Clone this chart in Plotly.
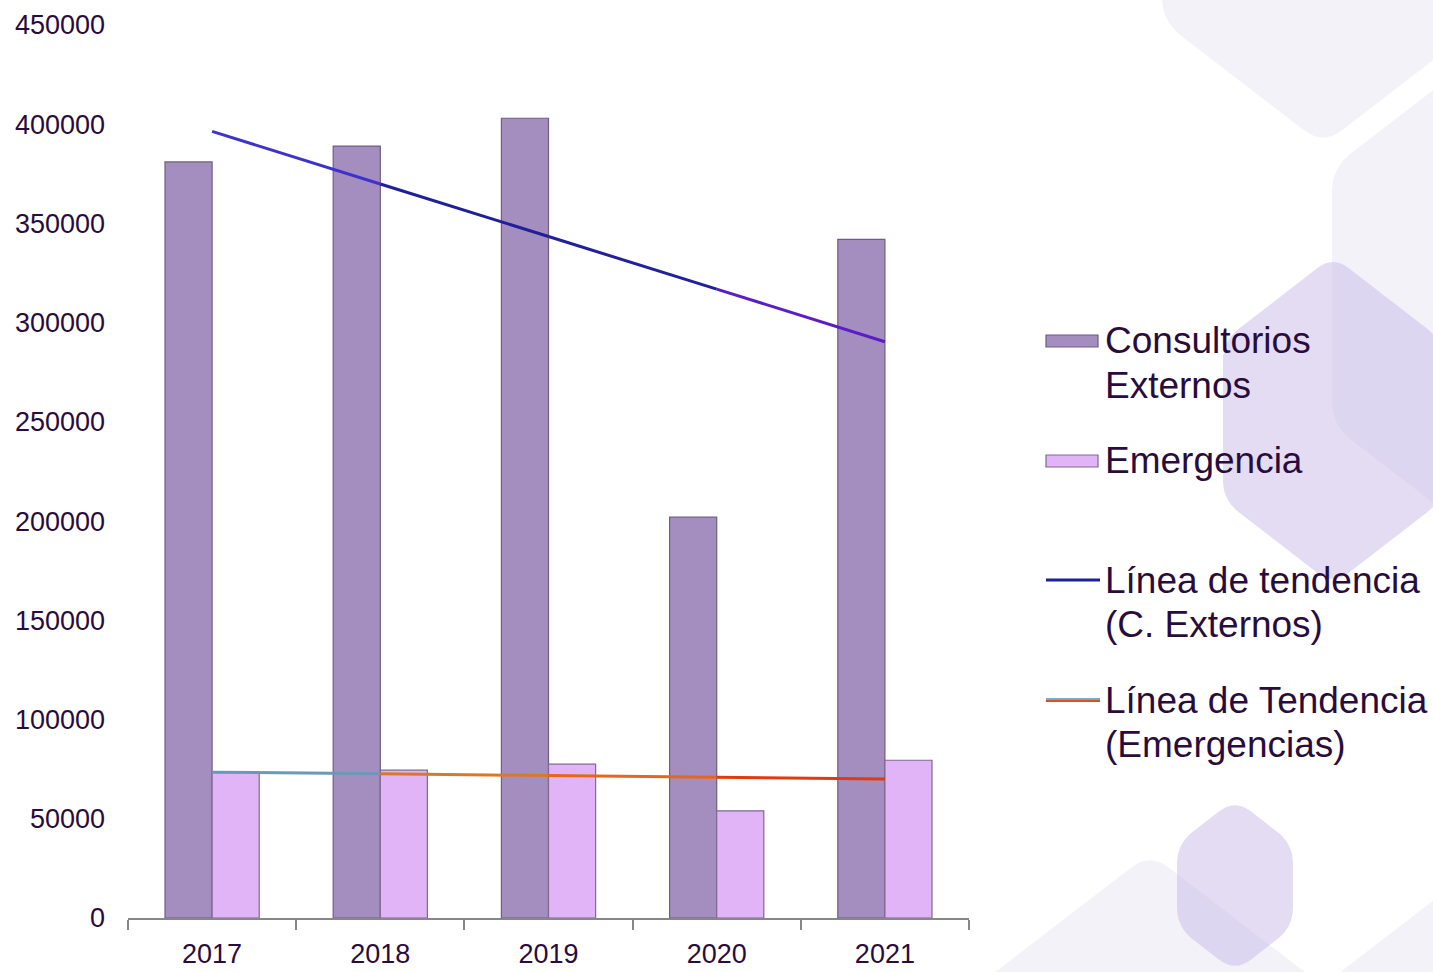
import numpy as np
import plotly.graph_objects as go

# ---------------- data ----------------
years = ["2017", "2018", "2019", "2020", "2021"]
consultorios = [381000, 389000, 403000, 202000, 342000]
emergencia = [73500, 74500, 77500, 54000, 79500]

name_cons = "Consultorios Externos"
name_emer = "Emergencia"
name_tr_cons = "Línea de tendencia (C. Externos)"
name_tr_emer = "Línea de Tendencia (Emergencias)"

y_ticks = [0, 50000, 100000, 150000, 200000, 250000, 300000, 350000, 400000, 450000]

# ---------------- styling ----------------
FONT = "Arial, 'Liberation Sans', sans-serif"
TXT = "#2A0C3C"
W, H = 1433, 972
ML, MR, MT, MB = 128, 464, 25, 54
PW, PH = W - ML - MR, H - MT - MB


def px(x):
    return (x - ML) / PW


def py(y):
    return (H - MB - y) / PH


fig = go.Figure()

fig.add_trace(go.Bar(
    x=years, y=consultorios, name=name_cons,
    marker=dict(color="#A48EC0", line=dict(color="#6E5D84", width=1.2)),
))
fig.add_trace(go.Bar(
    x=years, y=emergencia, name=name_emer,
    marker=dict(color="#E1B4F8", line=dict(color="#7E6A8E", width=1.2)),
))

# linear trend lines (least squares on the series)
idx = np.arange(len(years))
fit_c = np.polyval(np.polyfit(idx, consultorios, 1), idx)
fit_e = np.polyval(np.polyfit(idx, emergencia, 1), idx)

cols_c = ["#3F31CC", "#1F1F98", "#22209A", "#5A1EC4"]
cols_e = ["#6E98B8", "#D9782A", "#E8661A", "#E23A10"]
for i in range(len(years) - 1):
    fig.add_trace(go.Scatter(
        x=years[i:i + 2], y=list(fit_c[i:i + 2]), mode="lines",
        line=dict(color=cols_c[i], width=3), hoverinfo="skip", name=name_tr_cons))
    fig.add_trace(go.Scatter(
        x=years[i:i + 2], y=list(fit_e[i:i + 2]), mode="lines",
        line=dict(color=cols_e[i], width=3), hoverinfo="skip", name=name_tr_emer))


# ---------------- background hexagons ----------------
def hex_path(cx, top, w, h, hh, r=24):
    v = [(cx, top), (cx + w, top + h), (cx + w, top + hh - h),
         (cx, top + hh), (cx - w, top + hh - h), (cx - w, top + h)]
    n = len(v)
    parts = []
    for i in range(n):
        p, c, q = v[i - 1], v[i], v[(i + 1) % n]
        d1 = np.hypot(p[0] - c[0], p[1] - c[1])
        d2 = np.hypot(q[0] - c[0], q[1] - c[1])
        a = (c[0] + (p[0] - c[0]) * r / d1, c[1] + (p[1] - c[1]) * r / d1)
        b = (c[0] + (q[0] - c[0]) * r / d2, c[1] + (q[1] - c[1]) * r / d2)
        parts.append(("M" if i == 0 else "L") + f"{px(a[0]):.5f},{py(a[1]):.5f}")
        parts.append(f"Q{px(c[0]):.5f},{py(c[1]):.5f} {px(b[0]):.5f},{py(b[1]):.5f}")
    return " ".join(parts) + " Z"


shapes = []
light = "#F3F2F8"
purple = "rgba(200,186,232,0.5)"
for (cx, top, w, h, hh) in [(1323, -360, 161, 124, 505),
                            (1493, 44, 161, 124, 505),
                            (1150, 853, 260, 200, 520),
                            (1560, 803, 260, 200, 520)]:
    shapes.append(dict(type="path", xref="paper", yref="paper",
                       path=hex_path(cx, top, w, h, hh), fillcolor=light,
                       line=dict(width=0), layer="below"))
for (cx, top, w, h, hh) in [(1333, 256, 110, 85, 329),
                            (1235, 799, 58, 45, 173)]:
    shapes.append(dict(type="path", xref="paper", yref="paper",
                       path=hex_path(cx, top, w, h, hh, r=20), fillcolor=purple,
                       line=dict(width=0), layer="below"))

# ---------------- manual legend ----------------
annotations = []


def legend_text(text, ycen):
    annotations.append(dict(
        x=px(1103), y=py(ycen), xref="paper", yref="paper",
        xanchor="left", yanchor="middle", showarrow=False, text=text,
        font=dict(family=FONT, size=37, color=TXT)))


def legend_rect(ycen, fill, edge):
    shapes.append(dict(type="rect", xref="paper", yref="paper",
                       x0=px(1046), x1=px(1098), y0=py(ycen - 6), y1=py(ycen + 6),
                       fillcolor=fill, line=dict(color=edge, width=1.2), layer="above"))


def legend_line(ycen, color, width=3):
    shapes.append(dict(type="line", xref="paper", yref="paper",
                       x0=px(1046), x1=px(1100), y0=py(ycen), y1=py(ycen),
                       line=dict(color=color, width=width), layer="above"))


legend_rect(341, "#A48EC0", "#6E5D84")
legend_text("Consultorios", 341)
legend_text("Externos", 385)
legend_rect(461, "#E1B4F8", "#7E6A8E")
legend_text(name_emer, 460)
legend_line(580, "#1F1F98")
legend_text("Línea de tendencia", 580)
legend_text("(C. Externos)", 624)
legend_line(699, "#7AA8C8", 2)
legend_line(701, "#E2500F", 2)
legend_text("Línea de Tendencia", 700)
legend_text("(Emergencias)", 744)

fig.update_layout(
    width=W, height=H,
    margin=dict(l=ML, r=MR, t=MT, b=MB, pad=0, autoexpand=False),
    paper_bgcolor="white", plot_bgcolor="rgba(0,0,0,0)",
    barmode="group", bargap=0.44, bargroupgap=0,
    showlegend=False,
    font=dict(family=FONT, color=TXT, size=27),
    shapes=shapes, annotations=annotations,
    xaxis=dict(type="category", showline=True, linecolor="#878787", linewidth=2,
               ticks="outside", tickson="boundaries", ticklen=10, tickwidth=2,
               tickcolor="#878787", showgrid=False, zeroline=False,
               ticklabelstandoff=11, automargin=False,
               tickfont=dict(family=FONT, size=27, color=TXT)),
    yaxis=dict(range=[0, 450000], tickvals=y_ticks, tickformat="d",
               showgrid=False, zeroline=False, showline=False, ticks="",
               ticklabelstandoff=22, automargin=False,
               tickfont=dict(family=FONT, size=27, color=TXT)),
)

fig.write_html("out.html", config={"displayModeBar": False},
               post_script="document.body.style.margin='0';document.body.style.overflow='hidden';")
